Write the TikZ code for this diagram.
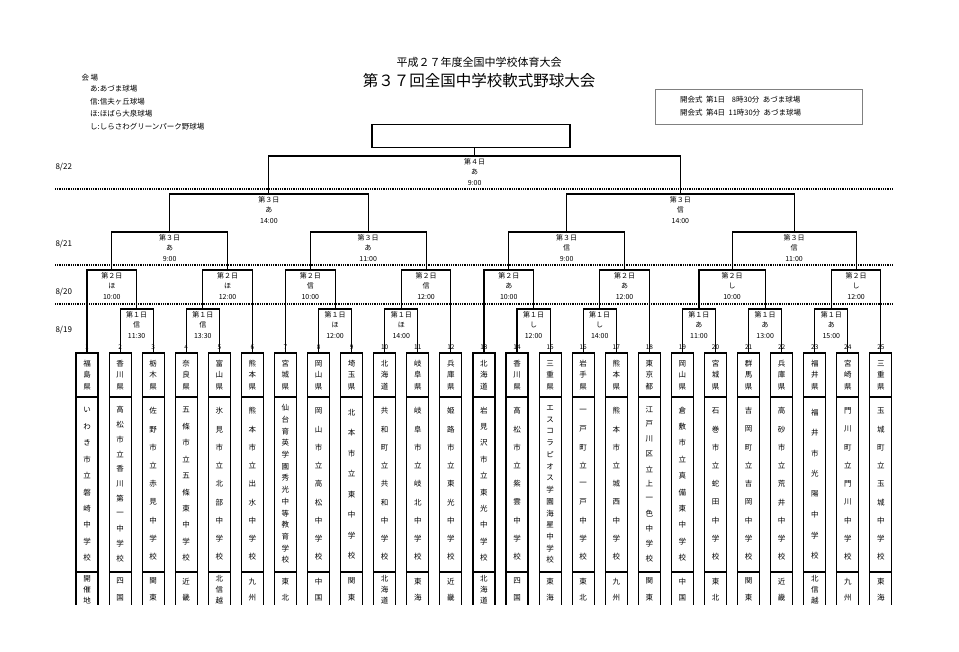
\documentclass[tikz,border=0pt]{standalone}
\usepackage{fontspec}
\setmainfont{Noto Sans CJK JP}
\usetikzlibrary{positioning,calc}

\tikzset{
  bracket/.style={draw,line width=1.1pt},
  teambox/.style={draw,line width=1.1pt},
  chr/.style={inner sep=0pt,font=\fontsize{7.5}{8}\selectfont},
  gamelabel/.style={inner sep=0pt,align=center,font=\fontsize{7}{10.5}\selectfont},
  dayline/.style={line width=1.3pt,dash pattern=on 1pt off 0.8pt},
  datelabel/.style={anchor=west,font=\fontsize{8}{9}\selectfont},
}

\ExplSyntaxOn
\NewDocumentCommand\colchars{mmmm}{
  \tl_set:Nx \l_tmpa_tl {#4}
  \int_set:Nn \l_tmpa_int {\tl_count:N \l_tmpa_tl}
  \int_zero:N \l_tmpb_int
  \tl_map_inline:Nn \l_tmpa_tl {
    \int_incr:N \l_tmpb_int
    \node[chr] at (#1, {#2+(#3-#2)*(\int_use:N\l_tmpb_int-0.5)/\int_use:N\l_tmpa_int}) {##1};
  }
}
\ExplSyntaxOff

% one game: name, left child, right child, bar height, day, venue, time
\newcommand\game[7]{%
  \coordinate (h) at (0,#4);
  \coordinate (#1-l) at (#2 |- h);
  \coordinate (#1-r) at (#3 |- h);
  \draw[bracket] (#2) -- (#1-l) -- (#1-r) -- (#3);
  \coordinate (#1) at ($(#1-l)!0.5!(#1-r)$);
  \node[gamelabel,below=2pt of #1] (#1-t) {#5\\#6\\#7};
}

\begin{document}
\begin{tikzpicture}[x=1pt,y=-1pt]
  \useasboundingbox (0,0) rectangle (959,651);

  % header
  \node[font=\fontsize{11}{12}\selectfont] (sub) at (479,62) {平成２７年度全国中学校体育大会};
  \node[font=\fontsize{15.5}{17}\selectfont] (title) at (479,81) {第３７回全国中学校軟式野球大会};
  \node[anchor=west,font=\fontsize{7.5}{9}\selectfont] (venue) at (78,78) {会\ 場};
  \node[anchor=north west,align=left,inner sep=0pt,font=\fontsize{7.5}{12.6}\selectfont] (venues) at (90,85)
    {あ:あづま球場\\信:信夫ヶ丘球場\\ほ:ほばら大泉球場\\し:しらさわグリーンパーク野球場};
  \draw[gray,line width=1pt] (655,89) rectangle (862,124);
  \node[anchor=north west,align=left,inner sep=0pt,font=\fontsize{7.5}{12.6}\selectfont] (open) at (680,96)
    {開会式\ \ 第1日\ \ \ \ 8時30分\ \ あづま球場\\開会式\ \ 第4日\ \ 11時30分\ \ あづま球場};
  \node[draw,line width=1.2pt,minimum width=198pt,minimum height=23pt] (champ) at (471,136) {};

  % day lines
  \node[datelabel] (d22) at (52,167) {8/22};
  \node[datelabel] (d21) at (52,244) {8/21};
  \node[datelabel] (d20) at (52,292) {8/20};
  \node[datelabel] (d19) at (52,330) {8/19};
  \foreach \y in {189,265,304}{
    \draw[dayline] (55,\y) -- (893,\y);
  }

  % teams
  \foreach \n/\p/\s/\r in {
    1/福島県/いわき市立磐崎中学校/開催地, 2/香川県/高松市立香川第一中学校/四国,
    3/栃木県/佐野市立赤見中学校/関東, 4/奈良県/五條市立五條東中学校/近畿,
    5/富山県/氷見市立北部中学校/北信越, 6/熊本県/熊本市立出水中学校/九州,
    7/宮城県/仙台育英学園秀光中等教育学校/東北, 8/岡山県/岡山市立高松中学校/中国,
    9/埼玉県/北本市立東中学校/関東, 10/北海道/共和町立共和中学校/北海道,
    11/岐阜県/岐阜市立岐北中学校/東海, 12/兵庫県/姫路市立東光中学校/近畿,
    13/北海道/岩見沢市立東光中学校/北海道, 14/香川県/高松市立紫雲中学校/四国,
    15/三重県/エスコラピオス学園海星中学校/東海, 16/岩手県/一戸町立一戸中学校/東北,
    17/熊本県/熊本市立城西中学校/九州, 18/東京都/江戸川区立上一色中学校/関東,
    19/岡山県/倉敷市立真備東中学校/中国, 20/宮城県/石巻市立蛇田中学校/東北,
    21/群馬県/吉岡町立吉岡中学校/関東, 22/兵庫県/高砂市立荒井中学校/近畿,
    23/福井県/福井市光陽中学校/北信越, 24/宮崎県/門川町立門川中学校/九州,
    25/三重県/玉城町立玉城中学校/東海}{
    \pgfmathsetmacro\tx{87+33.08*(\n-1)}
    \coordinate (t\n) at (\tx,353);
    \node[font=\fontsize{6.5}{7}\selectfont] at (\tx,347) {\n};
    \draw[teambox] (\tx-11,353) rectangle (\tx+11,572);
    \draw[teambox] (\tx-11,397) -- (\tx+11,397);
    \draw[teambox] (\tx-11,572) -- (\tx-11,605) (\tx+11,572) -- (\tx+11,605);
    \colchars{\tx}{358}{392}{\p}
    \colchars{\tx}{402}{566}{\s}
    \colchars{\tx}{573}{606}{\r}
  }

  % day 1
  \game{g23}{t2}{t3}{309}{第１日}{信}{11:30}
  \game{g45}{t4}{t5}{309}{第１日}{信}{13:30}
  \game{g89}{t8}{t9}{309}{第１日}{ほ}{12:00}
  \game{g1011}{t10}{t11}{309}{第１日}{ほ}{14:00}
  \game{g1415}{t14}{t15}{309}{第１日}{し}{12:00}
  \game{g1617}{t16}{t17}{309}{第１日}{し}{14:00}
  \game{g1920}{t19}{t20}{309}{第１日}{あ}{11:00}
  \game{g2122}{t21}{t22}{309}{第１日}{あ}{13:00}
  \game{g2324}{t23}{t24}{309}{第１日}{あ}{15:00}
  % day 2
  \game{a1}{t1}{g23}{270}{第２日}{ほ}{10:00}
  \game{a2}{g45}{t6}{270}{第２日}{ほ}{12:00}
  \game{a3}{t7}{g89}{270}{第２日}{信}{10:00}
  \game{a4}{g1011}{t12}{270}{第２日}{信}{12:00}
  \game{a5}{t13}{g1415}{270}{第２日}{あ}{10:00}
  \game{a6}{g1617}{t18}{270}{第２日}{あ}{12:00}
  \game{a7}{g1920}{g2122}{270}{第２日}{し}{10:00}
  \game{a8}{g2324}{t25}{270}{第２日}{し}{12:00}
  % day 3
  \game{b1}{a1}{a2}{232}{第３日}{あ}{9:00}
  \game{b2}{a3}{a4}{232}{第３日}{あ}{11:00}
  \game{b3}{a5}{a6}{232}{第３日}{信}{9:00}
  \game{b4}{a7}{a8}{232}{第３日}{信}{11:00}
  \game{c1}{b1}{b2}{194}{第３日}{あ}{14:00}
  \game{c2}{b3}{b4}{194}{第３日}{信}{14:00}
  % day 4
  \game{f}{c1}{c2}{156}{第４日}{あ}{9:00}
  \draw[bracket] (f) -- (f |- champ.south);
\end{tikzpicture}
\end{document}
